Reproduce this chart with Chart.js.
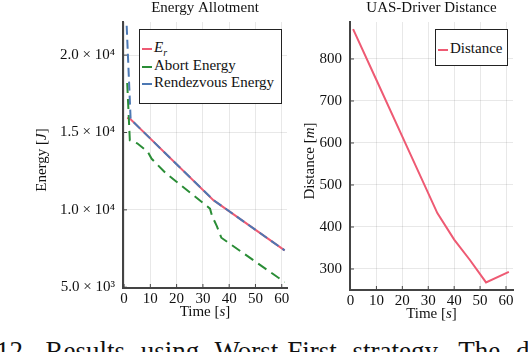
<!DOCTYPE html>
<html>
<head>
<meta charset="utf-8">
<script src="https://cdn.jsdelivr.net/npm/chart.js@4/dist/chart.umd.min.js"></script>
<style>
  body { margin: 0; width: 528px; height: 352px; overflow: hidden; background: #fff; position: relative; font-family: 'Liberation Serif', serif; }
  .box { position: absolute; top: 0; }
  .legend { position: absolute; background: #fff; border: 1.5px solid #222; font-size: 15px; color: #111; }
  .legend div { position: relative; height: 17.5px; line-height: 17.5px; padding-left: 14px; white-space: nowrap; }
  .legend span.ln { position: absolute; left: 2px; top: 9px; width: 10px; height: 2px; }
  #caption { position: absolute; left: -4px; top: 336px; font-size: 27px; white-space: nowrap; word-spacing: 9px; color: #111; }
</style>
</head>
<body>
<div class="box" style="left:0;width:295px;height:330px"><canvas id="energyChart"></canvas></div>
<div class="box" style="left:290px;width:238px;height:330px"><canvas id="distChart"></canvas></div>

<div class="legend" style="left:139px;top:29px;width:141px;height:64px;padding-top:9px">
  <div><span class="ln" style="background:#ee5a73"></span><i>E</i><sub style="font-size:10px"><i>r</i></sub></div>
  <div><span class="ln" style="background:#2a8d36"></span>Abort Energy</div>
  <div><span class="ln" style="background:#4c78b3"></span>Rendezvous Energy</div>
</div>
<div class="legend" style="left:435px;top:29px;width:71px;height:25px;padding-top:10px">
  <div><span class="ln" style="background:#ee5a73"></span>Distance</div>
</div>
<div id="caption">12. Results using Worst-First strategy. The d</div>

<script>
// energy plot (time in s, energy in J)
const erTime = [1.2, 2.5, 34, 61.1];
const erVals = [15950, 15850, 10630, 7380];
const rvTime = [1.0, 2.5, 34, 61.1];
const rvVals = [21900, 15850, 10630, 7380];
const abTime = [1.2, 2.2, 5, 9, 10.5, 12.5, 16, 32.7, 33.5, 35.3, 37, 61.1];
const abVals = [18200, 14500, 14300, 13750, 13300, 12950, 12350, 10080, 9600, 8950, 8200, 5330];
const energyTicks = [5000, 10000, 15000, 20000];
const energyTickLabels = ['5.0 × 10³', '1.0 × 10⁴', '1.5 × 10⁴', '2.0 × 10⁴'];

// distance plot (time in s, distance in m)
const distTime = [1, 10, 20, 33.5, 40, 46, 52.3, 61.1];
const distVals = [871, 750, 615, 433, 370, 322, 268, 293];
const distTicks = [300, 400, 500, 600, 700, 800];

const timeTicks = [0, 10, 20, 30, 40, 50, 60];

const RED = '#ee5a73', GREEN = '#2a8d36', BLUE = '#4c78b3';
const FONT = 'Liberation Serif';
Chart.defaults.font.family = FONT;
Chart.defaults.font.size = 15;
Chart.defaults.color = '#111';

function pts(xs, ys) {
  return xs.map((x, i) => ({ x: x, y: ys[i] }));
}

function richText(ctx, parts, x, y, rotate) {
  ctx.save();
  ctx.translate(x, y);
  if (rotate) ctx.rotate(-Math.PI / 2);
  ctx.textBaseline = 'middle';
  ctx.fillStyle = '#111';
  let total = 0;
  parts.forEach(p => { ctx.font = p[1] + ' ' + FONT; total += ctx.measureText(p[0]).width; });
  let cx = -total / 2;
  parts.forEach(p => {
    ctx.font = p[1] + ' ' + FONT;
    ctx.fillText(p[0], cx, 0);
    cx += ctx.measureText(p[0]).width;
  });
  ctx.restore();
}

function decorPlugin(title, ylabel) {
  return {
    id: 'decor',
    afterDraw(chart) {
      const ctx = chart.ctx;
      const a = chart.chartArea;
      // inward tick marks
      ctx.save();
      ctx.strokeStyle = '#444';
      ctx.lineWidth = 1;
      chart.scales.x.ticks.forEach(t => {
        const px = chart.scales.x.getPixelForValue(t.value);
        ctx.beginPath(); ctx.moveTo(px, a.bottom); ctx.lineTo(px, a.bottom - 4); ctx.stroke();
      });
      chart.scales.y.ticks.forEach(t => {
        const py = chart.scales.y.getPixelForValue(t.value);
        ctx.beginPath(); ctx.moveTo(a.left, py); ctx.lineTo(a.left + 4, py); ctx.stroke();
      });
      ctx.restore();
      const cx = (a.left + a.right) / 2;
      richText(ctx, [[title, '15px']], cx, 8, false);
      richText(ctx, [['Time [', '15px'], ['s', 'italic 15px'], [']', '15px']], cx, a.bottom + 24, false);
      richText(ctx, ylabel, ylabel.xpos, (a.top + a.bottom) / 2 + 5, true);
    }
  };
}

function makeOptions(xmin, xmax, ymin, ymax, yticks, ylabels, yWidth, padRight, xHeight) {
  return {
    responsive: true,
    maintainAspectRatio: false,
    animation: false,
    layout: { padding: { top: 22, right: padRight, left: 0, bottom: 0 } },
    plugins: { legend: { display: false }, title: { display: false }, tooltip: { enabled: false } },
    elements: { point: { radius: 0 }, line: { borderWidth: 2, tension: 0 } },
    scales: {
      x: {
        type: 'linear', min: xmin, max: xmax,
        afterBuildTicks: s => { s.ticks = timeTicks.map(v => ({ value: v })); },
        afterFit: s => { s.height = xHeight; },
        ticks: { padding: 2, maxRotation: 0, callback: v => String(v) },
        grid: { color: 'rgba(0,0,0,0.09)', drawTicks: false },
        border: { color: '#444', width: 2 }
      },
      y: {
        type: 'linear', min: ymin, max: ymax,
        afterBuildTicks: s => { s.ticks = yticks.map(v => ({ value: v })); },
        afterFit: s => { s.width = yWidth; },
        ticks: { padding: 8, callback: v => ylabels ? ylabels[yticks.indexOf(v)] : String(v) },
        grid: { color: 'rgba(0,0,0,0.09)', drawTicks: false },
        border: { color: '#444', width: 2 }
      }
    }
  };
}

const energyLabel = [['Energy [', '15px'], ['J', 'italic 15px'], [']', '15px']];
energyLabel.xpos = 42;
new Chart(document.getElementById('energyChart'), {
  type: 'line',
  data: {
    datasets: [
      { label: 'Rendezvous Energy', data: pts(rvTime, rvVals), borderColor: BLUE, borderDash: [9, 5] },
      { label: 'Abort Energy', data: pts(abTime, abVals), borderColor: GREEN, borderDash: [10, 6] },
      { label: 'E_r', data: pts(erTime, erVals), borderColor: RED }
    ]
  },
  options: makeOptions(-0.4, 62, 4950, 22140, energyTicks, energyTickLabels, 123, 8, 42),
  plugins: [decorPlugin('Energy Allotment', energyLabel)]
});

const distLabel = [['Distance [', '15px'], ['m', 'italic 15px'], [']', '15px']];
distLabel.xpos = 20;
new Chart(document.getElementById('distChart'), {
  type: 'line',
  data: {
    datasets: [
      { label: 'Distance', data: pts(distTime, distVals), borderColor: RED }
    ]
  },
  options: makeOptions(-0.2, 62.7, 250, 888, distTicks, null, 60, 15, 40),
  plugins: [decorPlugin('UAS-Driver Distance', distLabel)]
});
</script>
</body>
</html>
